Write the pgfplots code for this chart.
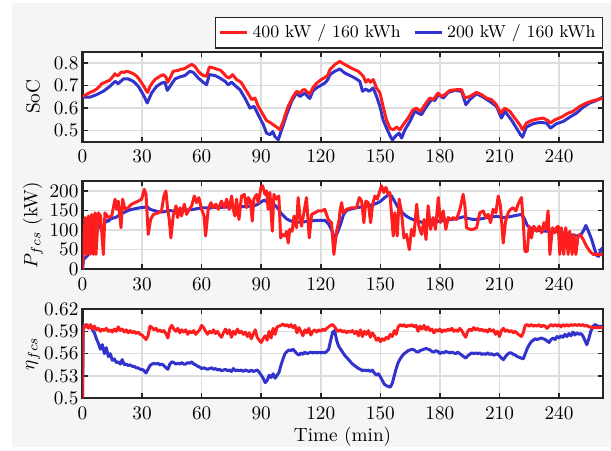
\documentclass[border=0pt]{standalone}
\usepackage{pgfplots}
\pgfplotsset{compat=1.18}
\definecolor{cred}{RGB}{255,30,30}
\definecolor{cblue}{RGB}{50,50,205}
\definecolor{figbg}{RGB}{245,245,245}
\definecolor{gridc}{RGB}{222,222,222}
\definecolor{axc}{RGB}{38,38,38}
\pgfplotsset{
 myaxis/.style={
  scale only axis, width=270.5pt, xmin=0, xmax=262, xtick={0,30,...,240},
  grid=major, major grid style={line width=0.8pt, gridc},
  axis line style={line width=1.1pt, axc},
  tick style={line width=0.8pt, axc}, major tick length=2.6pt, tick align=inside,
  axis background/.style={fill=white},
  ylabel style={at={(axis description cs:-0.0952,0.5)}, anchor=center},
  yticklabel shift=-1.4pt, xticklabel shift=0.8pt,
  every axis plot/.append style={line width=1.55pt, line join=round},
 }
}
\begin{document}
\begin{tikzpicture}
\path[use as bounding box] (0pt,0pt) rectangle (317.72pt,234.52pt);
\fill[figbg] (6.24pt,2.08pt) rectangle (317.72pt,232.96pt);
% ---------- SoC ----------
\begin{axis}[myaxis, at={(42.9pt,160.84pt)}, anchor=south west, height=46.8pt,
  ymin=0.45, ymax=0.85, ytick={0.5,0.6,0.7,0.8}, ylabel={SoC},
  yticklabel style={/pgf/number format/.cd, fixed, precision=1},
  legend columns=2,
  legend style={at={(1,1)}, anchor=south east, yshift=1.6pt, font=\fontsize{9}{10}\selectfont,
    draw=axc, line width=0.6pt, fill=white, inner xsep=1.5pt, inner ysep=1.8pt,
    /tikz/every even column/.append style={column sep=4.5pt}},
  legend image code/.code={\draw[#1] (0pt,0pt) -- (14pt,0pt);}]
\addlegendimage{cred, line width=1.6pt}
\addlegendentry{400 kW / 160 kWh}
\addlegendimage{cblue, line width=1.6pt}
\addlegendentry{200 kW / 160 kWh}
\addplot[cblue, forget plot] coordinates {(0,0.648)(3.8,0.648)(7.1,0.659)(10.5,0.674)(13.8,0.696)(16.4,0.718)(18,0.708)(20.6,0.729)(23.1,0.729)(25.6,0.718)(28.1,0.696)(30.6,0.659)(32.6,0.622)(34.8,0.666)(37.3,0.696)(39.9,0.711)(41.5,0.714)(42.7,0.678)(44.1,0.696)(46.6,0.729)(49.1,0.738)(51.6,0.744)(54.1,0.763)(55.8,0.758)(58.3,0.733)(60.8,0.714)(62.5,0.703)(63.9,0.748)(66.7,0.744)(69.2,0.733)(71.8,0.718)(73.4,0.703)(75.1,0.714)(77.3,0.696)(79.3,0.681)(81.8,0.644)(84.4,0.599)(86.4,0.607)(88.5,0.570)(91.1,0.525)(92.7,0.488)(94.4,0.481)(95.8,0.495)(96.9,0.473)(98.6,0.458)(100.3,0.503)(102.8,0.570)(105.3,0.629)(107.8,0.666)(109.5,0.651)(112,0.666)(113,0.655)(114.5,0.642)(116,0.675)(118,0.690)(120,0.700)(122,0.710)(123.5,0.725)(124.6,0.748)(127.1,0.763)(129.6,0.773)(132.1,0.755)(134.7,0.744)(137.2,0.733)(139.7,0.718)(141,0.674)(142.7,0.684)(144.4,0.674)(146.4,0.689)(148.1,0.651)(149.8,0.607)(151.4,0.547)(153.5,0.503)(155.1,0.473)(156.1,0.458)(157.8,0.476)(159.5,0.488)(160.7,0.466)(162.4,0.503)(164.9,0.540)(167.4,0.585)(169.1,0.577)(170.7,0.570)(173.3,0.607)(175.8,0.637)(177.5,0.633)(179.1,0.659)(181.7,0.644)(184.2,0.669)(187.5,0.678)(190.9,0.674)(193.1,0.614)(195.1,0.637)(198.4,0.663)(201.8,0.648)(205.1,0.629)(208.5,0.607)(211,0.555)(212.7,0.585)(216,0.547)(218.6,0.510)(220.6,0.481)(221.6,0.470)(223.6,0.515)(227,0.530)(230.3,0.536)(233.7,0.533)(235.7,0.510)(238.7,0.530)(242.1,0.540)(245.4,0.559)(248.8,0.577)(252.1,0.603)(255.5,0.622)(258.8,0.633)(262,0.648)};
\addplot[cred, forget plot] coordinates {(0,0.651)(2,0.660)(3.8,0.669)(5.5,0.675)(7.1,0.684)(8.5,0.695)(9.7,0.708)(11,0.712)(12.2,0.718)(13.5,0.722)(14.7,0.733)(15.5,0.742)(16.4,0.752)(17.2,0.745)(18,0.744)(19,0.755)(19.7,0.760)(21,0.758)(22.2,0.763)(23.5,0.760)(24.8,0.755)(26,0.750)(27.3,0.741)(28.5,0.728)(29.8,0.711)(31,0.695)(32,0.678)(32.8,0.669)(34,0.696)(35.2,0.712)(36.5,0.726)(37.8,0.734)(39,0.741)(40.7,0.748)(42,0.738)(42.9,0.714)(44.1,0.733)(45.7,0.763)(47,0.765)(48.3,0.767)(49.5,0.772)(50.8,0.773)(52,0.778)(53.3,0.785)(54.2,0.790)(55,0.793)(56.6,0.785)(58.3,0.763)(59.5,0.752)(60.8,0.744)(62.5,0.741)(63.9,0.782)(65.9,0.778)(68.4,0.770)(69.5,0.768)(70.9,0.755)(72.6,0.738)(73.9,0.733)(75.6,0.748)(77.6,0.726)(78.8,0.720)(80.1,0.711)(81.5,0.690)(82.7,0.674)(84,0.655)(85.2,0.637)(86.9,0.644)(88.5,0.607)(90.7,0.574)(92.7,0.544)(94.4,0.536)(95.3,0.530)(96.1,0.525)(97.8,0.515)(98.5,0.510)(99.4,0.503)(101.1,0.540)(102.3,0.575)(103.6,0.607)(105,0.632)(106.1,0.651)(107.8,0.674)(109.5,0.666)(111,0.680)(112,0.681)(113,0.672)(114.5,0.662)(116,0.690)(118,0.710)(120,0.725)(122,0.735)(123.5,0.745)(124.6,0.770)(127.1,0.793)(129.6,0.807)(131.3,0.797)(133.8,0.785)(136.3,0.773)(138.9,0.763)(140.2,0.752)(141.4,0.741)(142.7,0.714)(143.9,0.726)(145.1,0.714)(146.4,0.726)(148.1,0.689)(149.8,0.666)(151.4,0.607)(153.1,0.547)(154.8,0.510)(156.5,0.503)(158.2,0.515)(159.8,0.503)(161.5,0.525)(164,0.555)(166.5,0.592)(168.2,0.599)(170.2,0.585)(172.4,0.614)(174.9,0.644)(176.6,0.637)(179.1,0.666)(180.8,0.651)(182.5,0.659)(185,0.678)(188.4,0.681)(190.9,0.681)(192.6,0.644)(195.1,0.651)(198.4,0.669)(201,0.659)(203.5,0.644)(206,0.637)(208.5,0.614)(210.5,0.577)(212.7,0.599)(215.2,0.585)(217.7,0.555)(220.3,0.525)(221.6,0.503)(223.6,0.533)(226.1,0.544)(228.6,0.550)(232,0.555)(234.5,0.544)(235.7,0.533)(237.9,0.547)(241.2,0.559)(244.6,0.577)(247.1,0.585)(250.4,0.607)(253.8,0.622)(257.2,0.632)(260.5,0.640)(262,0.642)};
\end{axis}
% ---------- P_fcs ----------
\begin{axis}[myaxis, at={(42.9pt,94.48pt)}, anchor=south west, height=46.07pt,
  ymin=0, ymax=226, ytick={0,50,...,200}, ylabel={$P_{fcs}$ (kW)}]
\addplot[cblue] coordinates {(0,0)(0.5,25)(1.5,30)(2.5,35)(3.5,45)(4.5,70)(5.5,95)(6.5,110)(7.5,120)(8.5,115)(9.5,100)(10.3,95)(11,115)(12,125)(13,122)(14,128)(15,130)(17,133)(19,140)(21,145)(23,150)(25,153)(27,155)(29,157)(31,158)(32.5,160)(34,153)(36,150)(38,147)(40,146)(42,148)(44,150)(46,148)(48,147)(50,150)(52,151)(54,152)(56,153)(58,155)(60,157)(62,157)(64,156)(66,158)(68,158)(70,158)(72,159)(74,158)(76,159)(78,160)(80,160)(82,160)(84,161)(86,162)(88,165)(90,172)(91.5,176)(93,172)(95,168)(97,163)(98.5,155)(100,143)(101.5,135)(103,128)(105,123)(107,121)(110,120)(113,122)(116,124)(119,125)(122,125)(124,115)(125.5,100)(127,78)(128.5,95)(130,115)(131.5,140)(133,150)(136,155)(139,158)(142,160)(145,163)(148,168)(150,173)(152,182)(154,190)(155.5,188)(157,175)(159,157)(161,145)(163,136)(165,130)(168,124)(171,120)(174,119)(177,121)(180,123)(183,125)(186,127)(189,130)(192,134)(194,130)(197,127)(200,128)(203,131)(206,134)(209,135)(212,132)(215,134)(218,137)(221,140)(222.5,130)(224,112)(226,104)(228,100)(231,98)(234,97)(237,97)(240,96)(243,92)(246,88)(249,85)(251,88)(252.5,100)(253.5,112)(255,95)(256.5,75)(258,50)(259,35)(260,33)(261,50)(262,55)};
\addplot[cred] coordinates {(0,0)(1.3,132)(2.1,38)(3,136)(3.8,38)(4.6,140)(5.5,38)(6.3,144)(6.8,38)(8,144)(9.1,136)(10.5,38)(11.3,144)(13,132)(14.7,136)(16.4,179)(17.2,153)(18,174)(19.4,106)(20.2,179)(21.4,153)(23,157)(24.7,166)(26.4,170)(28.1,174)(29.8,179)(31.1,204)(32,191)(33.1,89)(34.3,127)(35.7,140)(38.2,144)(39.8,149)(41,187)(42,200)(42.9,153)(43.7,127)(44.5,80)(45.7,136)(47.1,162)(47.9,132)(49.1,157)(49.9,136)(51.3,166)(52.4,140)(53.8,153)(55,162)(56.3,187)(57.5,170)(58.6,183)(60,153)(61.2,136)(62,85)(63.3,153)(64.7,170)(65.9,157)(67.2,166)(68.4,153)(70,174)(71.4,157)(72.6,179)(73.9,153)(75.1,187)(75.9,153)(76.8,136)(77.6,179)(78.8,127)(80.1,187)(81.5,191)(82.6,157)(83.5,183)(84.6,174)(85.5,123)(86.3,179)(87.7,191)(88.5,170)(89.9,209)(90.7,213)(91.9,191)(92.7,200)(93.5,153)(94.4,196)(95.6,97)(96.4,191)(97.7,179)(98.9,187)(99.8,80)(100.8,89)(102,85)(102.8,97)(103.6,67)(104.4,102)(105.6,97)(106.5,136)(107.8,106)(108.6,183)(109.5,136)(110.3,110)(111.5,144)(112.8,183)(114.2,80)(115.4,140)(117,144)(118.7,149)(120.4,149)(122,153)(123.8,127)(125.4,119)(126.6,38)(128,97)(129.3,127)(129.7,149)(130.5,170)(131.3,144)(133,153)(135.5,157)(138,157)(139.4,183)(140.6,174)(141.7,119)(142.7,174)(143.9,170)(145.1,119)(146.1,166)(147.3,187)(148.5,179)(149.5,196)(150.6,213)(151.8,196)(152.8,209)(154,191)(154.8,196)(155.7,136)(156.5,85)(157.3,144)(158.5,85)(159.5,179)(160.7,144)(161.9,80)(163.2,89)(164.6,50)(165.7,102)(166.9,85)(168.3,166)(169.4,110)(170.8,89)(172,127)(173,76)(174.1,162)(175.3,102)(176.6,132)(177.8,102)(179.2,183)(180.3,119)(181.7,149)(183,102)(184.2,132)(185.4,127)(186.7,132)(188.4,127)(190.1,153)(191.7,191)(192.6,162)(193.4,106)(195.1,102)(196.8,102)(198.5,106)(200.1,144)(201.8,149)(203.2,132)(204.3,140)(205.5,119)(206.8,153)(208.2,144)(209.4,187)(210.5,162)(211.9,67)(213.1,123)(214.4,144)(215.6,153)(216.9,157)(218.3,149)(219.4,166)(221.1,183)(222,119)(222.8,46)(224,46)(225,110)(226.1,80)(227.3,110)(228.7,97)(230,110)(231.2,93)(232.4,119)(233.4,102)(234.5,149)(235.4,38)(236.7,106)(237.9,93)(238.7,106)(239.6,110)(240.4,38)(241.2,106)(242.4,38)(243.4,106)(244.6,38)(245.4,97)(246.6,38)(247.5,89)(248.5,38)(249.6,85)(250.5,89)(252.2,76)(253.8,59)(255.5,46)(257.2,38)(262,38)};
\end{axis}
% ---------- eta_fcs ----------
\begin{axis}[myaxis, at={(42.9pt,27.40pt)}, anchor=south west, height=46.44pt,
  ymin=0.5, ymax=0.62, ytick={0.5,0.53,0.56,0.59,0.62}, ylabel={$\eta_{fcs}$},
  yticklabel style={/pgf/number format/.cd, fixed, precision=2},
  xlabel={Time (min)}, xlabel style={at={(axis description cs:0.5,0)}, anchor=center, yshift=-20pt}]
\addplot[cblue] coordinates {(0,0.500)(0.4,0.598)(1,0.597)(2,0.599)(3,0.596)(4,0.598)(5,0.592)(6,0.588)(7,0.580)(8,0.574)(9,0.566)(10,0.572)(11,0.560)(12,0.568)(13,0.556)(14,0.560)(15,0.551)(16,0.553)(17,0.548)(18,0.549)(19,0.546)(20,0.552)(21,0.545)(22,0.546)(23,0.544)(24,0.545)(25,0.543)(26,0.543)(27,0.541)(28,0.541)(29,0.539)(30,0.539)(31,0.537)(32,0.534)(33,0.539)(34,0.544)(35,0.546)(36,0.547)(37,0.546)(38,0.547)(39,0.545)(40,0.546)(41,0.544)(42,0.541)(43,0.539)(44,0.546)(45,0.549)(46,0.548)(47,0.546)(48,0.547)(49,0.546)(50,0.548)(51,0.546)(52,0.546)(53,0.548)(54,0.547)(55,0.549)(56,0.546)(57,0.545)(58,0.543)(59,0.542)(60,0.540)(61,0.541)(62,0.540)(63,0.539)(64,0.540)(65,0.541)(66,0.539)(67,0.540)(68,0.538)(69,0.539)(70,0.537)(71,0.538)(72,0.539)(73,0.537)(74,0.538)(75,0.536)(76,0.540)(77,0.537)(78,0.538)(79,0.537)(80,0.538)(81,0.536)(82,0.538)(83,0.537)(84,0.536)(85,0.538)(86,0.536)(87,0.537)(88,0.538)(89,0.535)(90,0.531)(91,0.527)(92,0.521)(93,0.524)(94,0.531)(95,0.528)(96,0.533)(97,0.527)(98,0.531)(99,0.535)(100,0.545)(101,0.553)(102,0.560)(103,0.563)(104,0.565)(105,0.564)(106,0.566)(107,0.563)(108,0.560)(109,0.558)(110,0.561)(111,0.559)(112,0.562)(113,0.560)(114,0.561)(115,0.562)(116,0.561)(117,0.562)(118,0.561)(119,0.562)(120,0.561)(121,0.562)(122,0.561)(123,0.563)(124,0.566)(125,0.578)(126,0.589)(127,0.591)(128,0.578)(129,0.570)(130,0.566)(131,0.562)(132,0.558)(133,0.555)(134,0.552)(135,0.549)(136,0.546)(137,0.544)(138,0.542)(139,0.540)(140,0.539)(141,0.537)(142,0.538)(143,0.537)(144,0.538)(145,0.536)(146,0.538)(147,0.534)(148,0.531)(149,0.533)(150,0.529)(151,0.524)(152,0.519)(153,0.517)(154,0.516)(155,0.515)(156,0.520)(157,0.530)(158,0.540)(159,0.548)(160,0.553)(161,0.557)(162,0.560)(163,0.562)(164,0.564)(165,0.565)(166,0.566)(167,0.565)(168,0.563)(169,0.562)(170,0.564)(171,0.565)(172,0.566)(173,0.567)(174,0.566)(175,0.565)(176,0.563)(177,0.562)(178,0.564)(179,0.563)(180,0.560)(181,0.562)(182,0.561)(183,0.563)(184,0.562)(185,0.561)(186,0.562)(187,0.561)(188,0.560)(189,0.562)(190,0.560)(191,0.558)(192,0.556)(193,0.554)(194,0.557)(195,0.559)(196,0.561)(197,0.560)(198,0.561)(199,0.560)(200,0.561)(201,0.559)(202,0.560)(203,0.559)(204,0.561)(205,0.559)(206,0.560)(207,0.558)(208,0.559)(209,0.560)(210,0.557)(211,0.554)(212,0.552)(213,0.556)(214,0.559)(215,0.561)(216,0.561)(217,0.559)(218,0.558)(219,0.556)(220,0.555)(221,0.554)(222,0.553)(223,0.560)(224,0.567)(225,0.572)(226,0.576)(227,0.578)(228,0.580)(229,0.579)(230,0.580)(231,0.581)(232,0.580)(233,0.579)(234,0.577)(235,0.575)(236,0.579)(237,0.581)(238,0.579)(239,0.583)(240,0.581)(241,0.584)(242,0.582)(243,0.586)(244,0.583)(245,0.587)(246,0.584)(247,0.589)(248,0.585)(249,0.588)(250,0.586)(251,0.587)(252,0.584)(253,0.578)(254,0.572)(255,0.580)(256,0.590)(257,0.596)(258,0.599)(259,0.598)(260,0.596)(261,0.597)(262,0.595)};
\addplot[cred] coordinates {(0,0.500)(0.3,0.597)(1,0.595)(2,0.599)(3,0.594)(4,0.599)(5,0.593)(6,0.597)(7,0.592)(8,0.594)(9,0.590)(10,0.593)(11,0.591)(12,0.594)(13,0.590)(14,0.592)(15,0.589)(16,0.593)(17,0.590)(18,0.596)(19,0.591)(20,0.593)(21,0.589)(22,0.592)(23,0.588)(24,0.591)(25,0.588)(26,0.590)(27,0.587)(28,0.589)(29,0.586)(30,0.585)(31,0.582)(32,0.579)(33,0.584)(34,0.597)(35,0.595)(36,0.592)(37,0.594)(38,0.590)(39,0.592)(40,0.589)(41,0.591)(42,0.587)(43,0.581)(44,0.594)(45,0.598)(46,0.593)(47,0.590)(48,0.594)(49,0.588)(50,0.592)(51,0.589)(52,0.592)(53,0.586)(54,0.590)(55,0.588)(56,0.591)(57,0.586)(58,0.589)(59,0.592)(60,0.598)(61,0.595)(62,0.590)(63,0.586)(64,0.590)(65,0.588)(66,0.592)(67,0.587)(68,0.590)(69,0.585)(70,0.582)(71,0.588)(72,0.593)(73,0.587)(74,0.592)(75,0.582)(76,0.590)(77,0.586)(78,0.593)(79,0.588)(80,0.590)(81,0.586)(82,0.589)(83,0.583)(84,0.588)(85,0.580)(86,0.586)(87,0.592)(88,0.582)(89,0.578)(90,0.575)(91,0.580)(92,0.584)(93,0.578)(94,0.590)(95,0.581)(96,0.594)(97,0.586)(98,0.596)(99,0.597)(100,0.598)(101,0.600)(102,0.597)(103,0.599)(104,0.596)(105,0.599)(106,0.595)(107,0.598)(108,0.588)(109,0.595)(110,0.590)(111,0.584)(112,0.592)(113,0.588)(114,0.594)(115,0.585)(116,0.590)(117,0.592)(118,0.589)(119,0.592)(120,0.590)(121,0.593)(122,0.591)(123,0.594)(124,0.596)(125,0.598)(126,0.599)(127,0.596)(128,0.592)(129,0.590)(130,0.592)(131,0.589)(132,0.591)(133,0.588)(134,0.590)(135,0.589)(136,0.591)(137,0.587)(138,0.590)(139,0.584)(140,0.592)(141,0.583)(142,0.590)(143,0.586)(144,0.591)(145,0.582)(146,0.588)(147,0.584)(148,0.578)(149,0.581)(150,0.576)(151,0.580)(152,0.578)(153,0.582)(154,0.580)(155,0.586)(156,0.583)(157,0.591)(158,0.586)(159,0.596)(160,0.599)(161,0.597)(162,0.599)(163,0.596)(164,0.598)(165,0.597)(166,0.599)(167,0.596)(168,0.598)(169,0.590)(170,0.597)(171,0.593)(172,0.598)(173,0.592)(174,0.596)(175,0.591)(176,0.593)(177,0.588)(178,0.592)(179,0.590)(180,0.593)(181,0.589)(182,0.592)(183,0.590)(184,0.593)(185,0.591)(186,0.594)(187,0.590)(188,0.592)(189,0.590)(190,0.594)(191,0.591)(192,0.586)(193,0.582)(194,0.590)(195,0.593)(196,0.591)(197,0.595)(198,0.592)(199,0.594)(200,0.591)(201,0.593)(202,0.590)(203,0.592)(204,0.589)(205,0.593)(206,0.590)(207,0.592)(208,0.586)(209,0.590)(210,0.583)(211,0.591)(212,0.594)(213,0.590)(214,0.592)(215,0.589)(216,0.591)(217,0.588)(218,0.590)(219,0.587)(220,0.585)(221,0.583)(222,0.588)(223,0.598)(224,0.599)(225,0.597)(226,0.599)(227,0.597)(228,0.598)(229,0.597)(230,0.599)(231,0.596)(232,0.598)(233,0.597)(234,0.594)(235,0.597)(236,0.599)(237,0.597)(238,0.599)(239,0.597)(240,0.599)(241,0.596)(242,0.599)(243,0.597)(244,0.599)(245,0.597)(246,0.599)(247,0.598)(248,0.599)(249,0.598)(250,0.599)(251,0.598)(252,0.599)(253,0.597)(254,0.598)(255,0.596)(256,0.596)(257,0.595)(258,0.595)(259,0.595)(260,0.595)(261,0.595)(262,0.595)};
\end{axis}
\end{tikzpicture}
\end{document}
